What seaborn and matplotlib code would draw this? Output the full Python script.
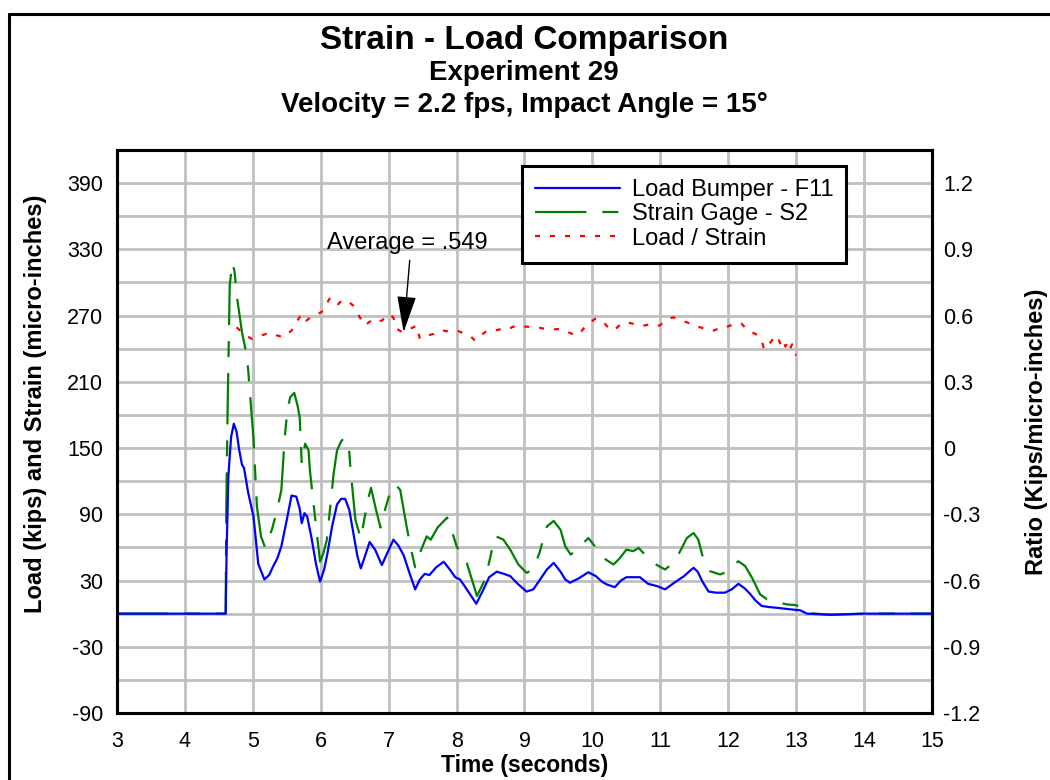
import numpy as np
import pandas as pd
import matplotlib
matplotlib.use("Agg")
import matplotlib.pyplot as plt
from matplotlib.lines import Line2D
import seaborn as sns

# ---- data -------------------------------------------------------------
load_time = [3.0, 4.0, 4.6, 4.615, 4.64, 4.68, 4.72, 4.76, 4.80, 4.84, 4.87, 4.93,
             5.01, 5.08, 5.17, 5.24, 5.30, 5.36, 5.42, 5.50, 5.57, 5.64, 5.69, 5.72,
             5.76, 5.80, 5.86, 5.93, 5.99, 6.05, 6.10, 6.17, 6.24, 6.30, 6.36, 6.42,
             6.48, 6.54, 6.59, 6.64, 6.72, 6.80, 6.90, 6.98, 7.07, 7.14, 7.22, 7.30,
             7.39, 7.46, 7.53, 7.60, 7.70, 7.81, 7.90, 7.98, 8.05, 8.15, 8.29, 8.38,
             8.48, 8.59, 8.70, 8.79, 8.90, 9.03, 9.13, 9.23, 9.33, 9.43, 9.53, 9.60,
             9.67, 9.80, 9.94, 10.05, 10.14, 10.21, 10.33, 10.42, 10.50, 10.60, 10.70,
             10.78, 10.82, 10.95, 11.07, 11.16, 11.24, 11.35, 11.44, 11.49, 11.55,
             11.62, 11.71, 11.82, 11.95, 12.05, 12.15, 12.24, 12.32, 12.40, 12.49,
             12.60, 12.76, 12.90, 13.06, 13.16, 13.5, 14.0, 15.0]
load_kips = [0, 0, 0, 60, 125, 160, 172, 165, 148, 135, 132, 110,
             88, 45, 31, 35, 43, 50, 61, 85, 107, 106, 95, 82,
             91, 88, 70, 45, 29, 40, 55, 80, 99, 104, 104, 94,
             73, 52, 41, 50, 65, 58, 44, 55, 67, 62, 53, 38,
             22, 31, 36, 35, 42, 47, 40, 33, 31, 22, 9, 20,
             33, 38, 36, 34, 27, 20, 22, 31, 40, 46, 38, 31,
             28, 32, 37.5, 34, 29, 26.5, 24, 30, 33, 33, 33,
             29, 27, 25, 22, 26, 29.5, 34, 39, 41.5, 38,
             29, 20, 19, 19, 22, 27, 23, 18, 12, 7,
             6, 5, 4, 3, 0, -1, 0, 0]

strain_time = [3.0, 4.0, 4.6, 4.61, 4.63, 4.66, 4.70, 4.73, 4.77, 4.81, 4.84, 4.89,
               4.93, 4.97, 5.01, 5.06, 5.12, 5.18, 5.23, 5.28, 5.35, 5.42, 5.47, 5.51,
               5.55, 5.61, 5.66, 5.69, 5.72, 5.77, 5.82, 5.84, 5.92, 5.99, 6.04, 6.09,
               6.19, 6.24, 6.30, 6.34, 6.41, 6.44, 6.51, 6.59, 6.64, 6.69, 6.74, 6.81,
               6.88, 6.95, 7.03, 7.10, 7.17, 7.27, 7.32, 7.39, 7.46, 7.56, 7.62, 7.72,
               7.86, 7.93, 8.00, 8.05, 8.15, 8.23, 8.30, 8.42, 8.50, 8.56, 8.62, 8.69,
               8.79, 8.91, 9.03, 9.13, 9.22, 9.33, 9.43, 9.53, 9.60, 9.68, 9.75, 9.82,
               9.94, 10.05, 10.16, 10.31, 10.40, 10.50, 10.60, 10.68, 10.75, 10.83,
               10.95, 11.07, 11.15, 11.24, 11.32, 11.39, 11.49, 11.56, 11.63, 11.73,
               11.88, 12.01, 12.10, 12.15, 12.25, 12.35, 12.47, 12.57, 12.71, 12.86,
               12.98, 13.08, 13.16, 13.5, 14.0, 15.0]
strain_micro = [0, 0, 0, 100, 190, 298, 318, 310, 285, 268, 255, 240,
                222, 190, 158, 97, 70, 60, 68, 76, 92, 112, 160, 185,
                196, 200, 188, 178, 136, 154, 148, 130, 85, 47, 55, 67,
                127, 148, 156, 159, 154, 130, 85, 68, 85, 102, 114, 95,
                78, 95, 112, 117, 112, 77, 61, 42, 55, 70, 67, 78,
                87, 75, 61, 56, 46, 30, 16, 31, 52, 70, 69, 67,
                58, 44.5, 37, 40, 55, 79, 84, 76, 61, 53.5, 57, 61,
                68.5, 60, 50.5, 44.5, 50, 58, 56.6, 59.5, 55, 49,
                44, 40, 44, 50.5, 60, 68.5, 73, 67, 50, 38.5,
                35.5, 38.5, 45, 47.5, 43, 32.5, 17.4, 13, 10.5, 8.4,
                7.8, 6, 0.6, -1, 0, 0]

ratio_time = [4.76, 4.84, 4.90, 4.98, 5.05, 5.12, 5.20, 5.28, 5.36, 5.45, 5.52, 5.57,
              5.64, 5.72, 5.79, 5.84, 5.89, 5.95, 6.00, 6.04, 6.09, 6.14, 6.20, 6.26,
              6.31, 6.36, 6.42, 6.48, 6.53, 6.56, 6.61, 6.65, 6.71, 6.78, 6.84, 6.90,
              6.96, 7.02, 7.07, 7.12, 7.17, 7.22, 7.28, 7.35, 7.41, 7.46, 7.52, 7.58,
              7.66, 7.72, 7.81, 7.88, 7.95, 8.02, 8.09, 8.15, 8.21, 8.27, 8.33, 8.40,
              8.45, 8.52, 8.60, 8.68, 8.75, 8.82, 8.89, 8.95, 9.03, 9.13, 9.22, 9.30,
              9.38, 9.45, 9.53, 9.60, 9.68, 9.77, 9.84, 9.92, 9.97, 10.04, 10.09, 10.15,
              10.22, 10.29, 10.36, 10.43, 10.50, 10.57, 10.63, 10.70, 10.77, 10.84,
              10.92, 10.99, 11.05, 11.12, 11.19, 11.26, 11.32, 11.39, 11.46, 11.52,
              11.59, 11.65, 11.71, 11.78, 11.85, 11.92, 11.97, 12.03, 12.09, 12.14,
              12.19, 12.25, 12.32, 12.38, 12.44, 12.49, 12.52, 12.56, 12.60, 12.65,
              12.69, 12.73, 12.77, 12.81, 12.84, 12.88, 12.91, 12.94, 12.97, 13.00]
ratio_value = [0.547, 0.525, 0.51, 0.495, 0.50, 0.51, 0.517, 0.505, 0.51, 0.502, 0.52, 0.532,
               0.57, 0.607, 0.577, 0.59, 0.60, 0.605, 0.615, 0.622, 0.655, 0.682, 0.665, 0.652,
               0.67, 0.668, 0.66, 0.645, 0.62, 0.60, 0.575, 0.555, 0.57, 0.585, 0.575, 0.577,
               0.595, 0.607, 0.59, 0.54, 0.53, 0.525, 0.535, 0.545, 0.555, 0.495, 0.505, 0.51,
               0.517, 0.53, 0.532, 0.528, 0.525, 0.53, 0.522, 0.517, 0.505, 0.487, 0.51, 0.52,
               0.532, 0.53, 0.535, 0.54, 0.535, 0.548, 0.555, 0.548, 0.55, 0.547, 0.545, 0.54,
               0.542, 0.538, 0.54, 0.53, 0.52, 0.51, 0.53, 0.56, 0.57, 0.585, 0.585, 0.575,
               0.55, 0.532, 0.545, 0.565, 0.57, 0.565, 0.56, 0.562, 0.555, 0.56,
               0.552, 0.555, 0.57, 0.585, 0.592, 0.585, 0.575, 0.57, 0.56, 0.55,
               0.547, 0.54, 0.532, 0.532, 0.54, 0.55, 0.548, 0.555, 0.56, 0.558,
               0.565, 0.545, 0.525, 0.52, 0.51, 0.49, 0.457, 0.48, 0.47, 0.49,
               0.48, 0.50, 0.47, 0.49, 0.46, 0.48, 0.45, 0.47, 0.43, 0.42]

series_names = ["Load Bumper - F11", "Strain Gage - S2", "Load / Strain"]
x_ticks = [3, 4, 5, 6, 7, 8, 9, 10, 11, 12, 13, 14, 15]
left_ticks = [-90, -30, 30, 90, 150, 210, 270, 330, 390]
left_minor = [-60, 0, 60, 120, 180, 240, 300, 360]
right_ticks = [-1.2, -0.9, -0.6, -0.3, 0, 0.3, 0.6, 0.9, 1.2]
right_tick_labels = ["-1.2", "-0.9", "-0.6", "-0.3", "0", "0.3", "0.6", "0.9", "1.2"]
average_text = "Average = .549"

# ---- style ------------------------------------------------------------
sns.set_theme(style="white")
plt.rcParams["font.family"] = ["Liberation Sans", "DejaVu Sans"]
plt.rcParams["axes.unicode_minus"] = False
plt.rcParams["lines.scale_dashes"] = False

fig = plt.figure(figsize=(10.5, 7.8), dpi=100)
ax = fig.add_axes([117 / 1050, 1 - 713 / 780, 815 / 1050, 563 / 780])
ax2 = ax.twinx()

load_df = pd.DataFrame({"time": load_time, "value": load_kips})
strain_df = pd.DataFrame({"time": strain_time, "value": strain_micro})
ratio_df = pd.DataFrame({"time": ratio_time, "value": ratio_value})

sns.lineplot(data=load_df, x="time", y="value", ax=ax, sort=False, estimator=None,
             color="#0000FF", linewidth=1.6, label=series_names[0], zorder=4)
sns.lineplot(data=strain_df, x="time", y="value", ax=ax, sort=False, estimator=None,
             color="#008000", linewidth=1.6, label=series_names[1], zorder=3,
             linestyle=(0, (37, 11.5, 11.5, 11.5)))
sns.lineplot(data=ratio_df, x="time", y="value", ax=ax2, sort=False, estimator=None,
             color="#FF0000", linewidth=1.6, label=series_names[2],
             linestyle=(0, (3.6, 7.2)))

# ---- axes -------------------------------------------------------------
ax.set_xlim(3, 15)
ax.set_ylim(-90, 420)
ax2.set_ylim(-1.2, 1.35)
ax.set_xticks(x_ticks)
ax.set_xticklabels([str(v) for v in x_ticks])
ax.set_yticks(left_ticks)
ax.set_yticks(left_minor, minor=True)
ax.set_yticklabels([str(v) for v in left_ticks])
ax2.set_yticks(right_ticks)
ax2.set_yticklabels(right_tick_labels)

ax.set_axisbelow(True)
ax.grid(True, which="both", color="#C0C0C0", linewidth=2.0)
ax2.grid(False)

for a in (ax, ax2):
    for sp in a.spines.values():
        sp.set_color("black")
        sp.set_linewidth(2.2)

ax.tick_params(axis="x", length=0, pad=13, labelsize=15.5, colors="black")
ax.tick_params(axis="y", which="both", length=0, pad=10, labelsize=15.5, colors="black")
ax2.tick_params(axis="y", length=0, pad=8, labelsize=15.5, colors="black")

ax.set_xlabel("Time (seconds)", fontsize=16.5, fontweight="bold", color="black")
ax.set_ylabel("Load (kips) and Strain (micro-inches)", fontsize=17, fontweight="bold",
              color="black")
ax2.set_ylabel("Ratio (Kips/micro-inches)", fontsize=17, fontweight="bold", color="black")
ax.xaxis.set_label_coords(0.5, -0.073)
ax.yaxis.set_label_coords(-0.086, 0.55)
ax2.yaxis.set_label_coords(1.114, 0.5)

# ---- legend -----------------------------------------------------------
h1, l1 = ax.get_legend_handles_labels()
h2, l2 = ax2.get_legend_handles_labels()
if ax.get_legend() is not None:
    ax.get_legend().remove()
leg = ax2.legend(h1 + h2, l1 + l2, loc="upper left", bbox_to_anchor=(0.497, 0.9716),
                 borderaxespad=0, fontsize=17, handlelength=3.6, handletextpad=0.5,
                 labelspacing=0.1, borderpad=0.55, fancybox=False, framealpha=1,
                 edgecolor="black")
leg.get_frame().set_linewidth(2.2)
for t in leg.get_texts():
    t.set_color("black")

# ---- annotation -------------------------------------------------------
ax.text(6.09, 336, average_text, fontsize=17, ha="left", va="center", color="black",
        zorder=6)
ax.annotate("", xy=(7.22, 255), xytext=(7.31, 320),
            arrowprops=dict(arrowstyle="-|>,head_length=1.9,head_width=0.5",
                            color="black", lw=1.0, shrinkA=0, shrinkB=0), zorder=6)

# ---- titles -----------------------------------------------------------
fig.text(0.499, 1 - 40 / 780, "Strain - Load Comparison", ha="center", va="center",
         fontsize=24, fontweight="bold", color="black")
fig.text(0.499, 1 - 73 / 780, "Experiment 29", ha="center", va="center",
         fontsize=20, fontweight="bold", color="black")
fig.text(0.499, 1 - 105 / 780, "Velocity = 2.2 fps, Impact Angle = 15°", ha="center",
         va="center", fontsize=20, fontweight="bold", color="black")

# outer frame
fig.add_artist(Line2D([8.5 / 1050, 8.5 / 1050], [0, 1 - 14 / 780],
                      transform=fig.transFigure, color="black", lw=2.2))
fig.add_artist(Line2D([8.5 / 1050, 1.0], [1 - 14 / 780, 1 - 14 / 780],
                      transform=fig.transFigure, color="black", lw=2.2))

fig.savefig("out.png", dpi=100, facecolor="white")
